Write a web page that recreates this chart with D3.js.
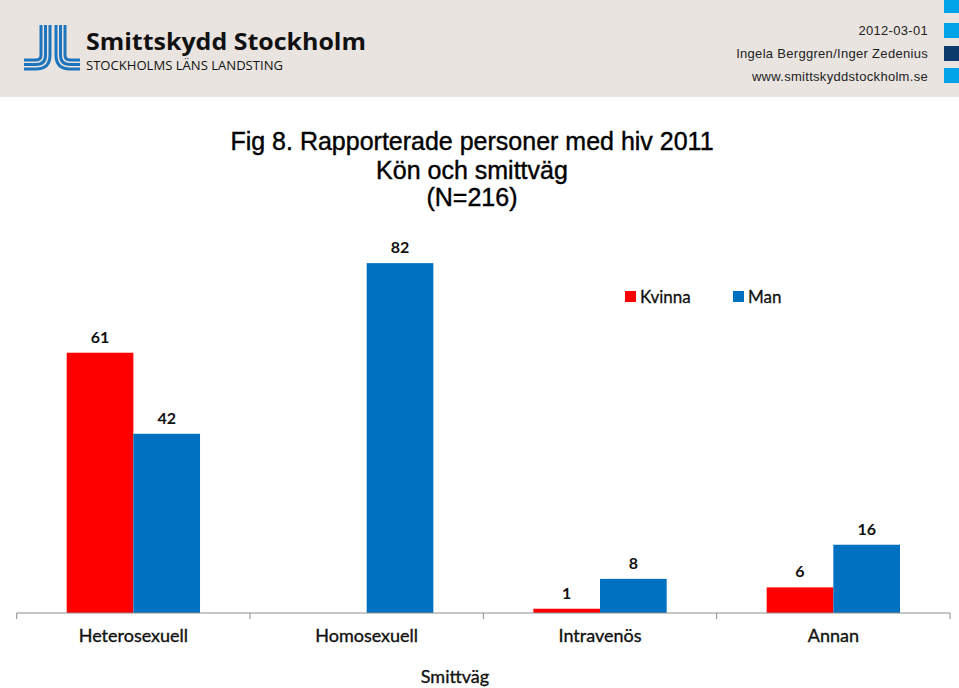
<!DOCTYPE html>
<html><head><meta charset="utf-8">
<script src="https://cdn.jsdelivr.net/npm/d3@7"></script>
<style>html,body{margin:0;padding:0;background:#fff;}svg{display:block;}</style>
</head><body>
<svg id="c" width="959" height="688"></svg>
<script>
const categories = ["Heterosexuell", "Homosexuell", "Intravenös", "Annan"];
const seriesNames = ["Kvinna", "Man"];
const kvinna = [61, null, 1, 6];
const man = [42, 82, 8, 16];
const titleLines = ["Fig 8. Rapporterade personer med hiv 2011", "Kön och smittväg", "(N=216)"];
const headerLines = ["2012-03-01", "Ingela Berggren/Inger Zedenius", "www.smittskyddstockholm.se"];
const colors = ["#ff0000", "#0070c0"];

const svg = d3.select("#c");
const W = 959, H = 688;
const chartFont = "Lato, 'Open Sans', sans-serif";

// header band
svg.append("rect").attr("x",0).attr("y",0).attr("width",W).attr("height",97).attr("fill","#e9e4e0");
// right squares
const sq = [{y:-2,c:"#00a3e8"},{y:23,c:"#00a3e8"},{y:46,c:"#0b3a6b"},{y:68,c:"#00a3e8"}];
svg.selectAll("rect.sq").data(sq).enter().append("rect").attr("class","sq")
  .attr("x",944).attr("y",d=>d.y).attr("width",16).attr("height",15).attr("fill",d=>d.c);

// logo
const lg = svg.append("g").attr("fill","none").attr("stroke","#1d75bd").attr("stroke-width",3);
const vx = [41,45.5,50], hy = [60,64.5,69], rr=[5,9.5,14];
for (let i=0;i<3;i++){
  lg.append("path").attr("d",`M${vx[i]},25V${hy[i]-rr[i]}Q${vx[i]},${hy[i]} ${vx[i]-rr[i]},${hy[i]}H24`);
  const xr = 106 - vx[i];
  lg.append("path").attr("d",`M${xr},25V${hy[i]-rr[i]}Q${xr},${hy[i]} ${xr+rr[i]},${hy[i]}H80`);
}
svg.append("text").attr("x",86).attr("y",50).attr("font-family","'Open Sans', sans-serif")
  .attr("font-weight","bold").attr("font-size",23).attr("fill","#111").attr("textLength",280).attr("lengthAdjust","spacingAndGlyphs")
  .text("Smittskydd Stockholm");
svg.append("text").attr("x",86).attr("y",70).attr("font-family","'Open Sans', sans-serif")
  .attr("font-size",12.5).attr("fill","#111").attr("textLength",197).attr("lengthAdjust","spacingAndGlyphs")
  .text("STOCKHOLMS LÄNS LANDSTING");

// header right text
const hb = [35,58,81];
svg.selectAll("text.hd").data(headerLines).enter().append("text").attr("class","hd")
  .attr("x",928).attr("y",(d,i)=>hb[i]).attr("text-anchor","end")
  .attr("font-family","'Liberation Sans', Arial, sans-serif").attr("font-size",13)
  .attr("letter-spacing",0.3).attr("fill","#222").text(d=>d);

// title
const tb = [150,179,206];
svg.selectAll("text.tt").data(titleLines).enter().append("text").attr("class","tt")
  .attr("x",472).attr("y",(d,i)=>tb[i]).attr("text-anchor","middle")
  .attr("font-family","'Liberation Sans', Arial, sans-serif").attr("font-size",25)
  .attr("fill","#000").attr("stroke","#000").attr("stroke-width",0.4).text(d=>d);

// scales
const x0 = d3.scaleBand().domain(categories).range([16.7, 950]).padding(0);
const x1 = d3.scaleBand().domain(seriesNames).range([x0.bandwidth()*0.2143, x0.bandwidth()*0.7857]).padding(0);
const y = d3.scaleLinear().domain([0, 90]).range([613, 229]);

const data = categories.map((c,i)=>({cat:c, vals:[{s:"Kvinna",v:kvinna[i]},{s:"Man",v:man[i]}]}));
const groups = svg.selectAll("g.grp").data(data).enter().append("g").attr("class","grp")
  .attr("transform",d=>`translate(${x0(d.cat)},0)`);
const bars = groups.selectAll("g.b").data(d=>d.vals.filter(e=>e.v!=null)).enter().append("g").attr("class","b");
bars.append("rect").attr("x",d=>x1(d.s)).attr("y",d=>y(d.v)).attr("width",x1.bandwidth())
  .attr("height",d=>y(0)-y(d.v)).attr("fill",(d)=>colors[seriesNames.indexOf(d.s)]);
bars.append("text").attr("x",d=>x1(d.s)+x1.bandwidth()/2).attr("y",d=>y(d.v)-10)
  .attr("text-anchor","middle").attr("font-family",chartFont).attr("font-weight","bold")
  .attr("font-size",16).attr("fill","#111").text(d=>d.v);

// axis
const ax = svg.append("g").attr("transform","translate(0,613)")
  .call(d3.axisBottom(x0).tickSize(0).tickPadding(16));
ax.select(".domain").attr("stroke","#8c8c8c").attr("d",`M16.7,0H950`);
ax.selectAll("text").attr("font-family",chartFont).attr("font-size",18).attr("fill","#111")
  .attr("stroke","#111").attr("stroke-width",0.35);
const bounds = categories.map(c=>x0(c)).concat([x0.range()[1]]);
svg.selectAll("line.tk").data(bounds).enter().append("line").attr("class","tk")
  .attr("x1",d=>d).attr("x2",d=>d).attr("y1",613).attr("y2",619).attr("stroke","#8c8c8c");

svg.append("text").attr("x",455).attr("y",683).attr("text-anchor","middle")
  .attr("font-family",chartFont).attr("font-size",18).attr("fill","#111")
  .attr("stroke","#111").attr("stroke-width",0.35).text("Smittväg");

// legend
const legX = [625, 733];
const leg = svg.selectAll("g.lg").data(seriesNames).enter().append("g").attr("class","lg")
  .attr("transform",(d,i)=>`translate(${legX[i]},291)`);
leg.append("rect").attr("width",11).attr("height",11).attr("fill",(d,i)=>colors[i]);
leg.append("text").attr("x",15).attr("y",12).attr("font-family",chartFont).attr("font-size",17)
  .attr("fill","#111").attr("stroke","#111").attr("stroke-width",0.3).text(d=>d);
</script>
</body></html>
